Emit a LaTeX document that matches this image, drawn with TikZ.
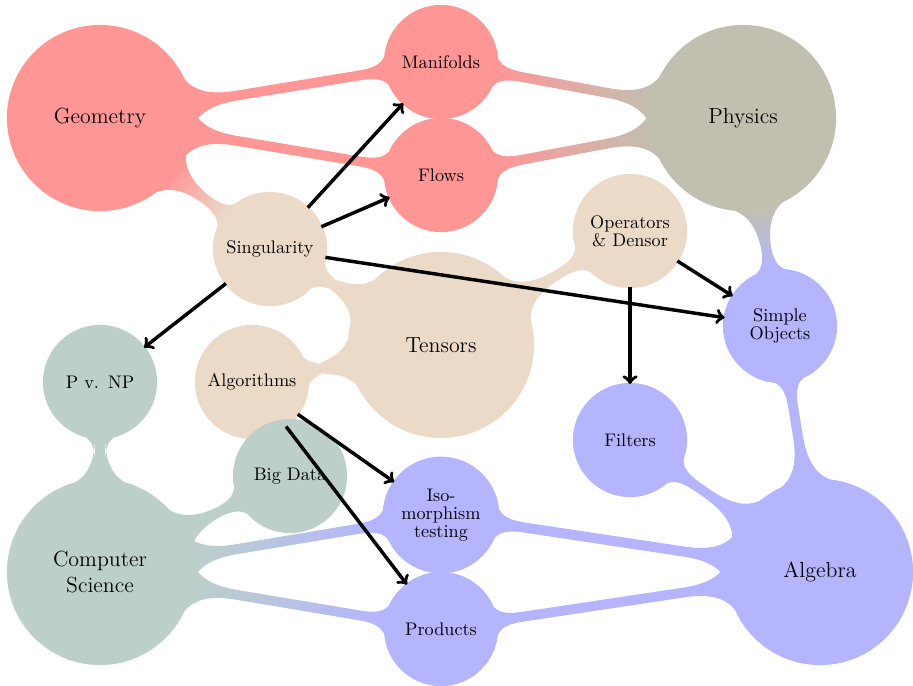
\documentclass[tikz,border=0pt]{standalone}
\usetikzlibrary{mindmap,decorations,shapes}
\definecolor{geo}{RGB}{255,150,150}
\definecolor{phys}{RGB}{193,192,176}
\definecolor{csg}{RGB}{188,208,201}
\definecolor{alg}{RGB}{180,180,255}
\definecolor{tens}{RGB}{235,218,200}
\pgfdeclarelayer{background}
\pgfsetlayers{background,main}
\begin{document}
\begin{tikzpicture}[x=0.549pt,y=-0.549pt,mindmap,
  bigc/.style={concept, minimum size=101pt, text width=80pt, align=center, inner sep=0pt, font=\large},
  smallc/.style={concept, minimum size=61.5pt, text width=56pt, align=center, inner sep=0pt, font=\fontsize{10}{10}\selectfont},
  arr/.style={->, line width=1.9pt, black}]
\useasboundingbox (0,0) rectangle (913,685);
% big concepts
\node[bigc, concept color=geo] (geo) at (100,118) {Geometry};
\node[bigc, concept color=phys] (phys) at (743,118) {Physics};
\node[bigc, concept color=csg] (cs) at (100,572) {Computer\\Science};
\node[bigc, concept color=alg] (alg) at (820,572) {Algebra};
\node[bigc, concept color=tens] (tens) at (441,345) {Tensors};
% small concepts
\node[smallc, concept color=geo] (man) at (441,62) {Manifolds};
\node[smallc, concept color=geo] (flow) at (441,175) {Flows};
\node[smallc, concept color=tens] (sing) at (270,249) {Singularity};
\node[smallc, concept color=tens] (oper) at (630,231) {Operators\\\& Densor};
\node[smallc, concept color=tens] (algo) at (252,382) {Algorithms};
\node[smallc, concept color=alg] (simp) at (780,326) {Simple\\Objects};
\node[smallc, concept color=alg] (filt) at (630,440) {Filters};
\node[smallc, concept color=alg] (iso) at (441,515) {Iso-\\morphism\\testing};
\node[smallc, concept color=alg] (prod) at (441,629) {Products};
\node[smallc, concept color=csg] (pnp) at (100,382) {P v. NP};
\node[smallc, concept color=csg] (big) at (290,476) {Big Data};
% connection bars
\begin{pgfonlayer}{background}
\path (geo) to[circle connection bar switch color=from (geo) to (geo)] (man);
\path (geo) to[circle connection bar switch color=from (geo) to (geo)] (flow);
\path (man) to[circle connection bar switch color=from (geo) to (phys)] (phys);
\path (flow) to[circle connection bar switch color=from (geo) to (phys)] (phys);
\path (geo) to[circle connection bar switch color=from (geo) to (tens)] (sing);
\path (sing) to[circle connection bar switch color=from (tens) to (tens)] (tens);
\path (algo) to[circle connection bar switch color=from (tens) to (tens)] (tens);
\path (oper) to[circle connection bar switch color=from (tens) to (tens)] (tens);
\path (phys) to[circle connection bar switch color=from (phys) to (alg)] (simp);
\path (simp) to[circle connection bar switch color=from (alg) to (alg)] (alg);
\path (filt) to[circle connection bar switch color=from (alg) to (alg)] (alg);
\path (iso) to[circle connection bar switch color=from (alg) to (alg)] (alg);
\path (prod) to[circle connection bar switch color=from (alg) to (alg)] (alg);
\path (cs) to[circle connection bar switch color=from (csg) to (alg)] (iso);
\path (cs) to[circle connection bar switch color=from (csg) to (alg)] (prod);
\path (cs) to[circle connection bar switch color=from (csg) to (csg)] (pnp);
\path (cs) to[circle connection bar switch color=from (csg) to (csg)] (big);
\end{pgfonlayer}
% arrows
\draw[arr] (sing) -- (man);
\draw[arr] (sing) -- (flow);
\draw[arr] (sing) -- (simp);
\draw[arr] (sing) -- (pnp);
\draw[arr] (oper) -- (simp);
\draw[arr] (oper) -- (filt);
\draw[arr] (algo) -- (iso);
\draw[arr] (algo) -- (prod);
\end{tikzpicture}
\end{document}
